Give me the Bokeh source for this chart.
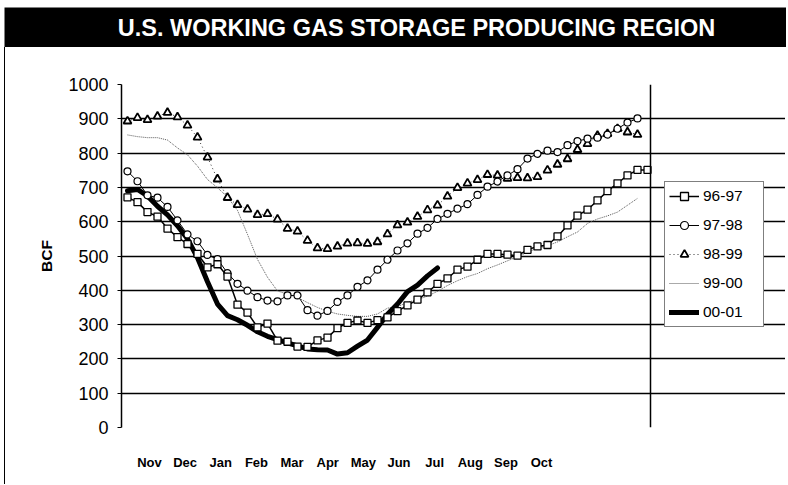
from bokeh.plotting import figure
from bokeh.models import Range1d, LinearAxis, FixedTicker, Legend, LegendItem, Span
from bokeh.embed import file_html
from bokeh.resources import INLINE
from bokeh.core.properties import value

TITLE = "U.S. WORKING GAS STORAGE PRODUCING REGION"
months = ["Nov", "Dec", "Jan", "Feb", "Mar", "Apr", "May", "Jun", "Jul", "Aug", "Sep", "Oct"]
y_ticks = [0, 100, 200, 300, 400, 500, 600, 700, 800, 900, 1000]
series_names = ["96-97", "97-98", "98-99", "99-00", "00-01"]

# weekly storage values (BCF)
s96_97 = [671, 657, 628, 615, 580, 555, 535, 506, 467, 476,
          440, 358, 335, 292, 303, 253, 250, 236, 235, 254,
          262, 290, 305, 312, 305, 313, 321, 339, 356, 373,
          394, 419, 435, 460, 469, 489, 506, 506, 504, 501,
          518, 528, 532, 557, 589, 618, 635, 662, 689, 712,
          735, 751, 751]
s97_98 = [747, 718, 677, 670, 643, 604, 563, 543, 503, 491,
          450, 419, 399, 380, 370, 368, 385, 385, 342, 326,
          340, 366, 385, 410, 429, 460, 489, 516, 537, 565,
          582, 608, 623, 638, 651, 678, 702, 717, 735, 753,
          784, 798, 807, 803, 823, 835, 842, 845, 854, 871,
          889, 901]
s98_99 = [893, 903, 897, 907, 918, 905, 881, 846, 788, 724,
          670, 649, 636, 620, 623, 607, 580, 572, 545, 523,
          521, 528, 537, 538, 536, 541, 564, 590, 598, 615,
          634, 648, 674, 699, 712, 722, 737, 735, 726, 728,
          727, 731, 750, 767, 783, 810, 827, 851, 856, 871,
          861, 854]
s99_00 = [853, 848, 845, 845, 838, 815, 795, 762, 723, 699,
          672, 633, 563, 490, 438, 398, 389, 379, 364, 350,
          339, 331, 327, 324, 324, 331, 348, 352, 365, 373,
          383, 397, 414, 428, 440, 449, 463, 474, 486, 498,
          511, 523, 530, 541, 556, 570, 595, 608, 617, 628,
          648, 668]
s00_01 = [690, 694, 675, 645, 620, 588, 550, 495, 425, 360,
          326, 314, 298, 279, 266, 256, 247, 238, 229, 227,
          226, 214, 218, 237, 255, 292, 330, 360, 396, 415,
          442, 465]

w96 = list(range(len(s96_97)))
w97 = list(range(len(s97_98)))
w98 = list(range(len(s98_99)))
w99 = list(range(len(s99_00)))
w00 = list(range(len(s00_01)))

# week axis: plot box spans weeks X0..X1; canvas continues to XC (room for legend)
X0, X1, XC = -0.6, 52.3, 65.9

FONT = "Liberation Sans"

# ---- title bar (its own small figure) ----
t = figure(width=786, height=47, x_range=Range1d(0, 782), y_range=Range1d(0, 40),
           output_backend="svg", toolbar_location=None,
           x_axis_location=None, y_axis_location=None,
           min_border_left=4, min_border_right=0, min_border_top=7, min_border_bottom=0)
t.background_fill_color = "black"
t.border_fill_color = "white"
t.outline_line_color = None
t.xgrid.visible = False
t.ygrid.visible = False
t.text(x=[412], y=[19.5], text=[TITLE], text_color="white",
       text_font=value(FONT), text_font_style="bold", text_font_size="23.5px",
       text_align="center", text_baseline="middle")

# ---- main chart ----
p = figure(width=781, height=437, x_range=Range1d(X0, XC), y_range=Range1d(0, 1000),
           x_axis_location=None, output_backend="svg", toolbar_location=None,
           min_border_left=116, min_border_right=0, min_border_top=37, min_border_bottom=57)
p.styles = {"margin-left": "4px", "border-left": "1px solid black"}
p.background_fill_color = "white"
p.border_fill_color = "white"
p.outline_line_color = None
p.xgrid.visible = False
p.ygrid.ticker = FixedTicker(ticks=y_ticks)
p.ygrid.grid_line_color = "black"
p.ygrid.grid_line_width = 1.5
p.ygrid.bounds = (X0, X1)
p.add_layout(Span(location=X1, dimension="height", line_color="black", line_width=1.5))

yax = p.yaxis[0]
yax.ticker = FixedTicker(ticks=y_ticks)
yax.axis_line_color = "black"
yax.axis_line_width = 1.5
yax.major_tick_out = 4
yax.major_tick_in = 0
yax.major_tick_line_color = "black"
yax.minor_tick_line_color = None
yax.major_label_text_font = FONT
yax.major_label_text_font_size = "18px"
yax.major_label_text_color = "black"
yax.major_label_standoff = 9
yax.axis_label = "BCF"
yax.axis_label_text_font = FONT
yax.axis_label_text_font_style = "bold"
yax.axis_label_text_font_size = "15.5px"
yax.axis_label_text_color = "black"
yax.axis_label_standoff = 10

p.extra_x_ranges = {"months": Range1d(-0.786, 17.873)}
max_ax = LinearAxis(x_range_name="months", ticker=FixedTicker(ticks=list(range(len(months)))),
                    major_label_overrides={i: m for i, m in enumerate(months)})
max_ax.axis_line_color = None
max_ax.major_tick_line_color = None
max_ax.major_tick_out = 0
max_ax.major_tick_in = 0
max_ax.minor_tick_line_color = None
max_ax.major_label_standoff = 27
max_ax.major_label_text_font = FONT
max_ax.major_label_text_font_style = "bold"
max_ax.major_label_text_font_size = "13px"
max_ax.major_label_text_color = "black"
p.add_layout(max_ax, "below")

r4 = p.line(w99, s99_00, line_color="#555555", line_width=1, line_dash="1 1")
r5 = p.line(w00, s00_01, line_color="black", line_width=5, line_join="round", line_cap="round")
r3l = p.line(w98, s98_99, line_color="black", line_width=0.8, line_dash="1 3")
r3m = p.scatter(w98, s98_99, marker="triangle", size=8, fill_color="white",
                line_color="black", line_width=1.8)
r2l = p.line(w97, s97_98, line_color="black", line_width=1)
r2m = p.scatter(w97, s97_98, marker="circle", size=7, fill_color="white",
                line_color="black", line_width=1.2)
r1l = p.line(w96, s96_97, line_color="black", line_width=1.5)
r1m = p.scatter(w96, s96_97, marker="square", size=7, fill_color="white",
                line_color="black", line_width=1.3)

legend = Legend(items=[
    LegendItem(label=series_names[0], renderers=[r1l, r1m]),
    LegendItem(label=series_names[1], renderers=[r2l, r2m]),
    LegendItem(label=series_names[2], renderers=[r3l, r3m]),
    LegendItem(label=series_names[3], renderers=[r4]),
    LegendItem(label=series_names[4], renderers=[r5]),
], location=(543, 100))
legend.border_line_color = "black"
legend.border_line_width = 1.5
legend.background_fill_color = "white"
legend.background_fill_alpha = 1
legend.padding = 4
legend.spacing = 9
legend.margin = 0
legend.glyph_width = 30
legend.glyph_height = 20
legend.label_height = 20
legend.label_width = 56
legend.label_standoff = 4
legend.label_text_font = FONT
legend.label_text_font_size = "15.5px"
legend.label_text_color = "black"
p.add_layout(legend)

open("out.html", "w").write(file_html([t, p], INLINE))
